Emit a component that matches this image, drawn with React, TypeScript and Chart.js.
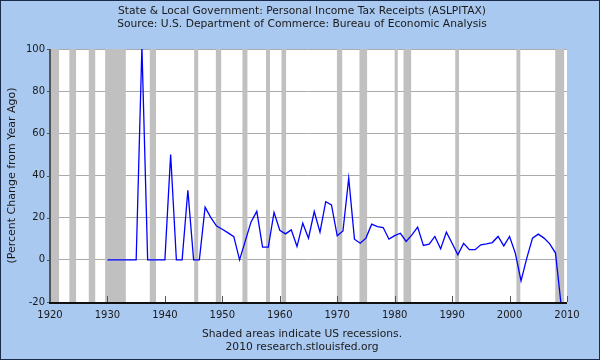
import React, { useEffect, useRef } from "react";
import { Chart, registerables } from "chart.js";

Chart.register(...registerables);

// ---------- data ----------
const years = [
  1930, 1931, 1932, 1933, 1934, 1935, 1936, 1937, 1938, 1939,
  1940, 1941, 1942, 1943, 1944, 1945, 1946, 1947, 1948, 1949,
  1950, 1951, 1952, 1953, 1954, 1955, 1956, 1957, 1958, 1959,
  1960, 1961, 1962, 1963, 1964, 1965, 1966, 1967, 1968, 1969,
  1970, 1971, 1972, 1973, 1974, 1975, 1976, 1977, 1978, 1979,
  1980, 1981, 1982, 1983, 1984, 1985, 1986, 1987, 1988, 1989,
  1990, 1991, 1992, 1993, 1994, 1995, 1996, 1997, 1998, 1999,
  2000, 2001, 2002, 2003, 2004, 2005, 2006, 2007, 2008, 2009,
];

const pctChange = [
  0, 0, 0, 0, 0, 0, 101, 0, 0, 0,
  0, 50, 0, 0, 33, 0, 0, 25, 20, 16,
  14.5, 12.8, 11, 0, 9, 18, 23, 6, 6, 22.5,
  14, 12.3, 14.2, 6.3, 17.4, 10.3, 22.9, 13.1, 27.6, 26.1,
  11.4, 13.7, 38.7, 9.8, 7.9, 10.3, 16.9, 15.8, 15.3, 9.8,
  11.5, 12.6, 8.7, 11.8, 15.5, 6.8, 7.4, 11.1, 5.2, 13.1,
  7.9, 2.4, 7.8, 4.8, 4.8, 7.1, 7.6, 8.2, 11.1, 6.6,
  11.1, 3.2, -10, 0.8, 10.3, 12.2, 10.3, 7.6, 3.2, -22,
];

const recessionStart = [
  1920.0, 1923.37, 1926.75, 1929.6, 1937.37, 1945.1, 1948.87, 1953.5, 1957.6,
  1960.3, 1969.95, 1973.87, 1980.0, 1981.54, 1990.54, 2001.2, 2007.95,
];
const recessionEnd = [
  1921.58, 1924.54, 1927.87, 1933.2, 1938.45, 1945.8, 1949.8, 1954.37, 1958.3,
  1961.1, 1970.87, 1975.2, 1980.54, 1982.87, 1991.2, 2001.87, 2009.5,
];

const xMin = 1920;
const xMax = 2010;
const xStep = 10;
const yMin = -20;
const yMax = 100;
const yStep = 20;

const titleLines = [
  "State & Local Government: Personal Income Tax Receipts (ASLPITAX)",
  "Source: U.S. Department of Commerce: Bureau of Economic Analysis",
];
const footerLines = [
  "Shaded areas indicate US recessions.",
  "2010 research.stlouisfed.org",
];
const yAxisTitle = "(Percent Change from Year Ago)";

// ---------- styles ----------
const FONT = "'DejaVu Sans', Verdana, sans-serif";
const BG = "rgb(170,201,240)";
const TEXT = "#1a1a1a";

const decorPlugin = {
  id: "decor",
  beforeDraw(chart: any) {
    const { ctx, width, height, chartArea } = chart;
    ctx.save();
    ctx.fillStyle = BG;
    ctx.fillRect(0, 0, width, height);
    ctx.fillStyle = "#ffffff";
    ctx.fillRect(
      chartArea.left,
      chartArea.top,
      chartArea.right - chartArea.left,
      chartArea.bottom - chartArea.top
    );
    ctx.restore();
  },
  beforeDatasetsDraw(chart: any) {
    const { ctx, chartArea } = chart;
    const xs = chart.scales.x;
    ctx.save();
    ctx.beginPath();
    ctx.rect(
      chartArea.left,
      chartArea.top,
      chartArea.right - chartArea.left,
      chartArea.bottom - chartArea.top
    );
    ctx.clip();
    ctx.fillStyle = "rgb(192,192,192)";
    for (let i = 0; i < recessionStart.length; i++) {
      const x0 = xs.getPixelForValue(recessionStart[i]);
      const x1 = xs.getPixelForValue(recessionEnd[i]);
      ctx.fillRect(x0, chartArea.top, x1 - x0, chartArea.bottom - chartArea.top);
    }
    ctx.restore();
  },
  afterDraw(chart: any) {
    const { ctx, width, height, chartArea } = chart;
    const xs = chart.scales.x;
    const ys = chart.scales.y;
    ctx.save();
    // x tick marks (inside)
    ctx.strokeStyle = "#555555";
    ctx.lineWidth = 1;
    xs.ticks.forEach((t: any) => {
      const px = Math.round(xs.getPixelForValue(t.value)) + 0.5;
      ctx.beginPath();
      ctx.moveTo(px, chartArea.bottom);
      ctx.lineTo(px, chartArea.bottom - 6);
      ctx.stroke();
    });
    // y tick marks (outside)
    ys.ticks.forEach((t: any) => {
      const py = Math.round(ys.getPixelForValue(t.value)) + 0.5;
      ctx.beginPath();
      ctx.moveTo(chartArea.left - 3, py);
      ctx.lineTo(chartArea.left, py);
      ctx.stroke();
    });
    // axis lines
    ctx.fillStyle = "#555555";
    ctx.fillRect(chartArea.left - 1, chartArea.top, 2, chartArea.bottom - chartArea.top + 1);
    ctx.fillStyle = "#111111";
    ctx.fillRect(chartArea.left - 1, chartArea.bottom, chartArea.right - chartArea.left + 1, 2);

    // texts
    ctx.fillStyle = TEXT;
    ctx.textAlign = "center";
    ctx.textBaseline = "middle";
    ctx.font = `10.7px ${FONT}`;
    const cx = 302;
    ctx.fillText(titleLines[0], cx, 11);
    ctx.fillText(titleLines[1], cx, 24.5);
    ctx.fillText(footerLines[0], cx, 334);
    ctx.fillText(footerLines[1], cx, 347.5);

    // outer border
    ctx.strokeStyle = "#1b2b4b";
    ctx.lineWidth = 1;
    ctx.strokeRect(0.5, 0.5, width - 1, height - 1);
    ctx.restore();
  },
};

export default function App() {
  const ref = useRef<HTMLCanvasElement | null>(null);

  useEffect(() => {
    if (!ref.current) return;
    const chart = new Chart(ref.current, {
      type: "line",
      data: {
        datasets: [
          {
            data: years.map((yr, i) => ({ x: yr, y: pctChange[i] })),
            borderColor: "#0000ff",
            borderWidth: 1.3,
            pointRadius: 0,
            tension: 0,
            fill: false,
          },
        ],
      },
      options: {
        animation: false,
        responsive: false,
        devicePixelRatio: 1,
        layout: { padding: { left: 0, top: 49, right: 33, bottom: 0 } },
        plugins: {
          legend: { display: false },
          tooltip: { enabled: false },
          title: { display: false },
        },
        scales: {
          x: {
            type: "linear",
            min: xMin,
            max: xMax,
            grid: { display: false, drawTicks: false },
            border: { display: false },
            ticks: {
              stepSize: xStep,
              padding: 7,
              color: TEXT,
              font: { family: FONT, size: 10 },
              maxRotation: 0,
              callback: (v: any) => String(v),
            },
            afterFit: (s: any) => {
              s.height = 58;
            },
          },
          y: {
            min: yMin,
            max: yMax,
            grid: { color: "#aaaaaa", lineWidth: 1, drawTicks: false },
            border: { display: false },
            ticks: {
              stepSize: yStep,
              padding: 5,
              color: TEXT,
              font: { family: FONT, size: 10 },
            },
            title: {
              display: true,
              text: yAxisTitle,
              color: TEXT,
              font: { family: FONT, size: 11 },
              padding: { top: 6, bottom: 0 },
            },
            afterFit: (s: any) => {
              s.width = 50;
            },
          },
        },
      },
      plugins: [decorPlugin],
    });
    return () => chart.destroy();
  }, []);

  return (
    <div style={{ position: "fixed", left: 0, top: 0, width: 600, height: 360 }}>
      <canvas ref={ref} width={600} height={360} style={{ display: "block" }} />
    </div>
  );
}
